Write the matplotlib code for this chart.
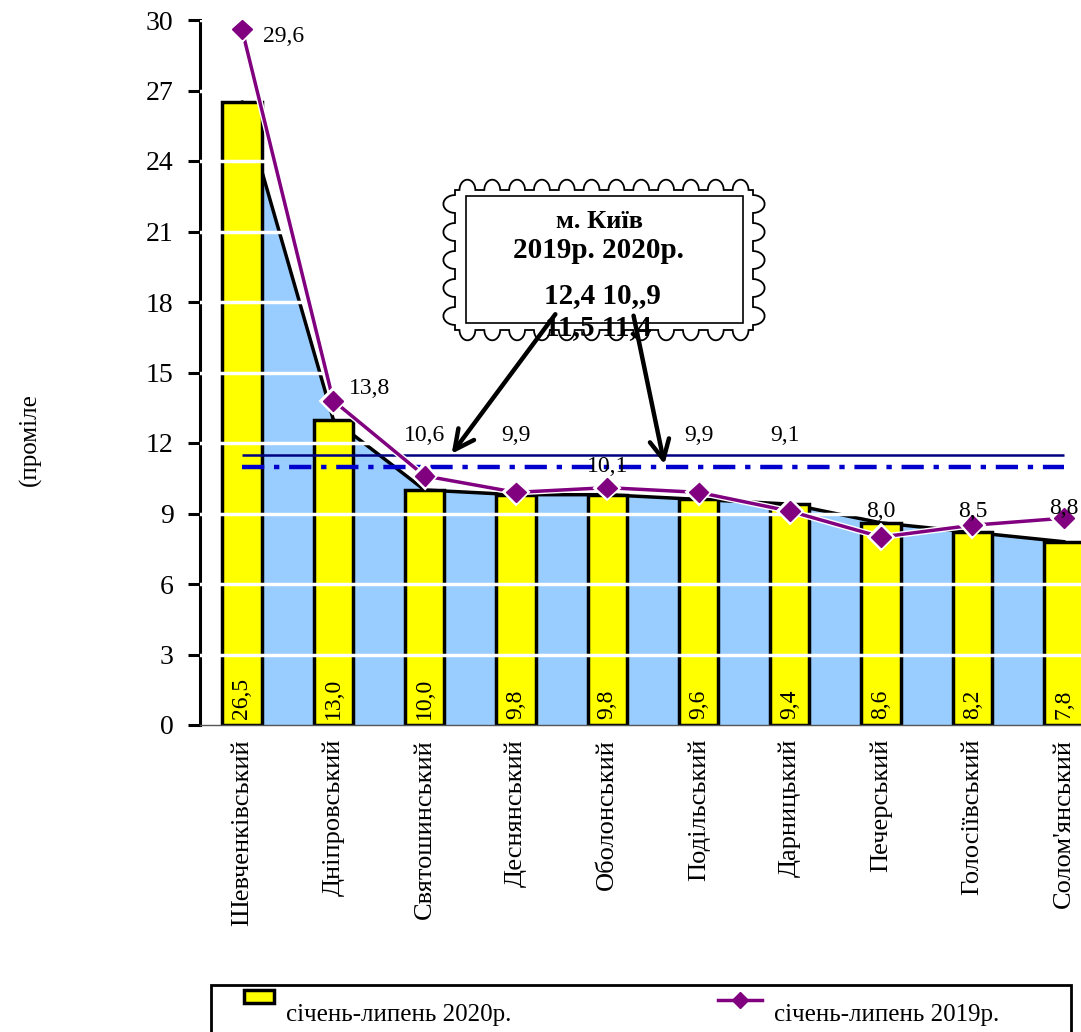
import numpy as np
import matplotlib
matplotlib.use("Agg")
import matplotlib.pyplot as plt
from matplotlib.path import Path
from matplotlib.patches import PathPatch, Rectangle, FancyArrowPatch
from matplotlib.lines import Line2D
import matplotlib.patheffects as pe

plt.rcParams['font.family'] = ['Liberation Serif', 'DejaVu Serif']

# ---------------- data ----------------
districts = ["Шевченківський", "Дніпровський", "Святошинський", "Деснянський",
             "Оболонський", "Подільський", "Дарницький", "Печерський",
             "Голосіївський", "Солом'янський"]
values_2020 = [26.5, 13.0, 10.0, 9.8, 9.8, 9.6, 9.4, 8.6, 8.2, 7.8]
values_2019 = [29.6, 13.8, 10.6, 9.9, 10.1, 9.9, 9.1, 8.0, 8.5, 8.8]
kyiv_2019 = 11.5
kyiv_2020 = 11.0
yticks = [0, 3, 6, 9, 12, 15, 18, 21, 24, 27, 30]
legend_labels = ["січень-липень 2020р.", "січень-липень 2019р."]
callout_lines = ["м. Київ", "2019р. 2020р.", "12,4 10,,9", "11,5 11,4"]
y_label = "(проміле"

# label placement (offsets for the 2019 value labels, in data units)
label_dx = [0.45, 0.40, 0.0, 0.0, 0.0, 0.0, -0.05, 0.0, 0.0, 0.0]
label_y = [29.3, 14.3, 12.3, 12.3, 11.0, 12.3, 12.3, 9.1, 9.1, 9.2]

W, H = 1081, 1032
fig = plt.figure(figsize=(W / 100, H / 100), dpi=100)

def fx(px):
    return px / W

def fy(py):
    return 1 - py / H

ax_left, ax_right, ax_top, ax_bottom = 200, 1081, 20, 725
ax = fig.add_axes([fx(ax_left), fy(ax_bottom), fx(ax_right - ax_left), (ax_bottom - ax_top) / H])

spacing = 91.3
x0 = -(242 - ax_left) / spacing
ax.set_xlim(x0, x0 + (ax_right - ax_left) / spacing)
ax.set_ylim(0, 30)

x = np.arange(len(districts))

# area behind bars
ax.fill_between(x, 0, values_2020, color='#99CCFF', zorder=1, linewidth=0)
ax.plot(x, values_2020, color='black', lw=2.5, zorder=1.5)

# bars
ax.bar(x, values_2020, width=0.43, color='#FFFF00', edgecolor='black', linewidth=2.5, zorder=2)

# white gridlines
for t in yticks[1:]:
    ax.axhline(t, color='white', lw=2.5, zorder=2.6)

# Kyiv reference lines
ax.hlines(kyiv_2019, 0, len(x) - 1, color='#000080', lw=1.8, zorder=3)
ax.hlines(kyiv_2020, 0, len(x) - 1, color='#0000CC', lw=3.2, zorder=3,
          linestyles=(0, (5, 2.2, 1.2, 2.2)))

# 2019 line
ax.plot(x, values_2019, color='#800080', lw=2.5, marker='D', markersize=10,
        zorder=5, path_effects=[pe.Stroke(linewidth=4.5, foreground='white'), pe.Normal()])

# 2019 labels
for i, v in enumerate(values_2019):
    ax.text(x[i] + label_dx[i], label_y[i], f"{v:.1f}".replace('.', ','),
            ha='center', va='center', fontsize=17, zorder=6)

# bar value labels
for i, v in enumerate(values_2020):
    ax.text(x[i], 0.25, f"{v:.1f}".replace('.', ','), rotation=90, ha='center',
            va='bottom', fontsize=17, zorder=6)

# axes styling
for s in ['top', 'right']:
    ax.spines[s].set_visible(False)
ax.spines['left'].set_linewidth(2.2)
ax.spines['bottom'].set_color('#555555')
ax.spines['bottom'].set_linewidth(1)
ax.set_yticks(yticks)
ax.set_yticklabels([str(t) for t in yticks], fontsize=20)
ax.tick_params(axis='y', direction='out', length=9, width=2.2, pad=10)
ax.set_xticks(x)
ax.set_xticklabels(districts, rotation=90, fontsize=19, va='top', ha='center')
ax.tick_params(axis='x', length=0, pad=10)

fig.text(fx(30), fy(440), y_label, rotation=90, ha='center', va='center', fontsize=18)

# ---------------- callout stamp ----------------
def stamp_path(l, t, r, b, n_h=12, n_v=5):
    def bump_edge(p0, p1, n, outward):
        p0 = np.array(p0, float); p1 = np.array(p1, float)
        d = (p1 - p0)
        L = np.linalg.norm(d)
        u = d / L
        seg = L / n
        rad = seg * 0.32
        pts = []
        for k in range(n):
            c = p0 + u * (seg * (k + 0.5))
            a = np.linspace(np.pi, 0, 14)
            for ang in a:
                pts.append(c + u * (np.cos(ang) * rad) + outward * (np.sin(ang) * rad * 1.3))
            pts.append(p0 + u * (seg * (k + 1)))
        return pts
    pts = [np.array((l, t), float)]
    pts += bump_edge((l, t), (r, t), n_h, np.array((0, -1.0)))
    pts += bump_edge((r, t), (r, b), n_v, np.array((1.0, 0)))
    pts += bump_edge((r, b), (l, b), n_h, np.array((0, 1.0)))
    pts += bump_edge((l, b), (l, t), n_v, np.array((-1.0, 0)))
    pts = np.array(pts)
    fpts = np.column_stack([pts[:, 0] / W, 1 - pts[:, 1] / H])
    codes = [Path.MOVETO] + [Path.LINETO] * (len(fpts) - 2) + [Path.CLOSEPOLY]
    return Path(fpts, codes)

fig.patches.append(PathPatch(stamp_path(455, 190, 753, 330), transform=fig.transFigure,
                             facecolor='white', edgecolor='black', lw=1.3, zorder=10))
fig.patches.append(Rectangle((fx(466), fy(323)), fx(743 - 466), (323 - 196) / H,
                             transform=fig.transFigure, facecolor='none', edgecolor='black',
                             lw=1.2, zorder=11))
fig.text(fx(600), fy(222), callout_lines[0], ha='center', va='center', fontsize=19,
         fontweight='bold', zorder=12)
fig.text(fx(598), fy(251), callout_lines[1], ha='center', va='center', fontsize=21,
         fontweight='bold', zorder=12)
fig.text(fx(602), fy(296), callout_lines[2], ha='center', va='center', fontsize=21,
         fontweight='bold', zorder=12)
fig.text(fx(598), fy(328), callout_lines[3], ha='center', va='center', fontsize=21,
         fontweight='bold', zorder=12)

for (sx, sy), (ex, ey) in [((557, 312), (450, 456)), ((633, 313), (665, 467))]:
    fig.add_artist(FancyArrowPatch(
        (fx(sx), fy(sy)), (fx(ex), fy(ey)), transform=fig.transFigure,
        arrowstyle='->,head_length=0.7,head_width=0.35', color='black', lw=3.2, zorder=13,
        mutation_scale=20))

# ---------------- legend ----------------
fig.patches.append(Rectangle((fx(211), fy(1040)), fx(1071 - 211), (1040 - 985) / H,
                             transform=fig.transFigure, facecolor='white', edgecolor='black',
                             lw=2, zorder=10))
fig.patches.append(Rectangle((fx(244), fy(1003)), fx(30), 13 / H, transform=fig.transFigure,
                             facecolor='#FFFF00', edgecolor='black', lw=2.5, zorder=11))
fig.text(fx(286), fy(1015), legend_labels[0], ha='left', va='center', fontsize=18, zorder=12)
fig.add_artist(Line2D([fx(718), fx(762)], [fy(1000), fy(1000)], transform=fig.transFigure,
                      color='#800080', lw=2.5, zorder=11))
fig.add_artist(Line2D([fx(740)], [fy(1000)], transform=fig.transFigure, color='#800080',
                      marker='D', markersize=8, zorder=12))
fig.text(fx(774), fy(1015), legend_labels[1], ha='left', va='center', fontsize=18, zorder=12)

fig.savefig("out.png", dpi=100)
